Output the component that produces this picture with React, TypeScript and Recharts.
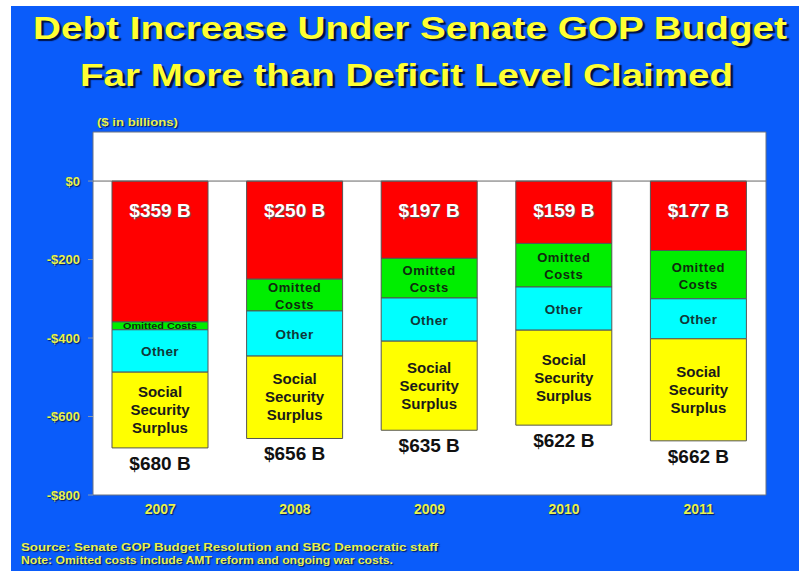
import { BarChart, Bar, XAxis, YAxis, ReferenceArea, ReferenceLine, LabelList } from 'recharts'

const years = ['2007', '2008', '2009', '2010', '2011']
const deficit = [359, 250, 197, 159, 177]
const omitted = [20, 81, 101, 111, 123]
const other = [108, 115, 110, 110, 102]
const ssSurplus = [193, 210, 227, 242, 260]
const totalDebt = [680, 656, 635, 622, 662]
const yTicks = [0, -200, -400, -600, -800]

const data = years.map((year, i) => ({
  year,
  deficit: -deficit[i],
  omitted: -omitted[i],
  other: -other[i],
  ss: -ssSurplus[i],
}))

const BLUE = '#0a5cfa'
const TICK_YELLOW = '#e9f24c'
const FONT = 'Arial, "Liberation Sans", Helvetica, sans-serif'
const darkShadow = '1px 1px 1px #001a66'

const span = (p: any) => {
  const y = Number(p.y), h = Number(p.height)
  return { top: Math.min(y, y + h), bottom: Math.max(y, y + h), cx: Number(p.x) + Number(p.width) / 2 }
}

const DeficitLabel = (p: any) => {
  const { top, cx } = span(p)
  return (
    <text x={cx} y={top + 36} textAnchor="middle" fill="#fff" fontFamily={FONT} fontWeight="bold" fontSize={19}
      style={{ textShadow: '1px 1px 1px #555' }}>
      ${deficit[p.index]} B
    </text>
  )
}

const OmittedLabel = (p: any) => {
  const { top, bottom, cx } = span(p)
  const mid = (top + bottom) / 2
  if (bottom - top < 20) {
    return (
      <text x={cx} y={mid + 3.5} textAnchor="middle" fill="#103010" fontFamily={FONT} fontWeight="bold" fontSize={9} textLength={74} lengthAdjust="spacingAndGlyphs">
        Omitted Costs
      </text>
    )
  }
  return (
    <text textAnchor="middle" fill="#0f2a0f" fontFamily={FONT} fontWeight="bold" fontSize={13} letterSpacing={0.6}>
      <tspan x={cx} y={mid - 3}>Omitted</tspan>
      <tspan x={cx} y={mid + 14}>Costs</tspan>
    </text>
  )
}

const OtherLabel = (p: any) => {
  const { top, bottom, cx } = span(p)
  return (
    <text x={cx} y={(top + bottom) / 2 + 5} textAnchor="middle" fill="#103838" fontFamily={FONT} fontWeight="bold" fontSize={13.5} letterSpacing={0.4}>
      Other
    </text>
  )
}

const SsLabel = (p: any) => {
  const { top, bottom, cx } = span(p)
  const mid = (top + bottom) / 2
  return (
    <g>
      <text textAnchor="middle" fill="#1a1a1a" fontFamily={FONT} fontWeight="bold" fontSize={15}>
        <tspan x={cx} y={mid - 13}>Social</tspan>
        <tspan x={cx} y={mid + 5}>Security</tspan>
        <tspan x={cx} y={mid + 23}>Surplus</tspan>
      </text>
      <text x={cx} y={bottom + 22} textAnchor="middle" fill="#111" fontFamily={FONT} fontWeight="bold" fontSize={19}>
        ${totalDebt[p.index]} B
      </text>
    </g>
  )
}

export default function App() {
  return (
    <div style={{ position: 'absolute', left: 0, top: 0, width: 799, height: 571, background: '#fff', fontFamily: FONT }}>
      <div style={{ position: 'absolute', left: 11, top: 6, width: 788, height: 565, background: BLUE }} />
      <svg width={799} height={571} style={{ position: 'absolute', left: 0, top: 0 }}>
        <g fontFamily={FONT} fontWeight="bold" fill="#ffff33" style={{ textShadow: '2px 2px 1px #001040' }}>
          <text x={33} y={39} fontSize={31} textLength={754} lengthAdjust="spacingAndGlyphs">
            Debt Increase Under Senate GOP Budget
          </text>
          <text x={80} y={86} fontSize={31} textLength={653} lengthAdjust="spacingAndGlyphs">
            Far More than Deficit Level Claimed
          </text>
        </g>
        <g fontFamily={FONT} fontWeight="bold" fill={TICK_YELLOW} style={{ textShadow: darkShadow }}>
          <text x={97} y={126} fontSize={11} textLength={81} lengthAdjust="spacingAndGlyphs">($ in billions)</text>
          <text x={21} y={551} fontSize={10} textLength={417} lengthAdjust="spacingAndGlyphs">
            Source:  Senate GOP Budget Resolution and SBC Democratic staff
          </text>
          <text x={21} y={564} fontSize={10} textLength={372} lengthAdjust="spacingAndGlyphs">
            Note:  Omitted costs include AMT reform and ongoing war costs.
          </text>
        </g>
      </svg>
      <div style={{ position: 'absolute', left: 0, top: 0 }}>
        <BarChart width={799} height={571} data={data} stackOffset="sign"
          margin={{ top: 132, right: 33, bottom: 46, left: 33 }}>
          <XAxis dataKey="year" axisLine={false} tickLine={false} height={30} tickMargin={3}
            tick={{ fill: TICK_YELLOW, fontSize: 14, fontWeight: 'bold', fontFamily: FONT, style: { textShadow: darkShadow } } as any} />
          <YAxis type="number" domain={[-800, 125]} ticks={yTicks} allowDataOverflow width={60}
            axisLine={false} tickSize={5} tickMargin={8} tickLine={{ stroke: '#8899aa' }}
            tickFormatter={(v: number) => (v < 0 ? `-$${-v}` : `$${v}`)}
            tick={{ fill: TICK_YELLOW, fontSize: 13, fontWeight: 'bold', fontFamily: FONT, style: { textShadow: darkShadow } } as any} />
          <ReferenceArea y1={-800} y2={125} fill="#fff" fillOpacity={1} stroke="#6b7280" strokeWidth={1} />
          <ReferenceLine y={0} stroke="#666" strokeWidth={1} />
          <Bar dataKey="deficit" stackId="debt" fill="#ff0000" stroke="#555" strokeWidth={1} barSize={96} isAnimationActive={false}>
            <LabelList dataKey="deficit" content={DeficitLabel} />
          </Bar>
          <Bar dataKey="omitted" stackId="debt" fill="#00ee00" stroke="#555" strokeWidth={1} barSize={96} isAnimationActive={false}>
            <LabelList dataKey="omitted" content={OmittedLabel} />
          </Bar>
          <Bar dataKey="other" stackId="debt" fill="#00ffff" stroke="#555" strokeWidth={1} barSize={96} isAnimationActive={false}>
            <LabelList dataKey="other" content={OtherLabel} />
          </Bar>
          <Bar dataKey="ss" stackId="debt" fill="#ffff00" stroke="#555" strokeWidth={1} barSize={96} isAnimationActive={false}>
            <LabelList dataKey="ss" content={SsLabel} />
          </Bar>
        </BarChart>
      </div>
    </div>
  )
}
